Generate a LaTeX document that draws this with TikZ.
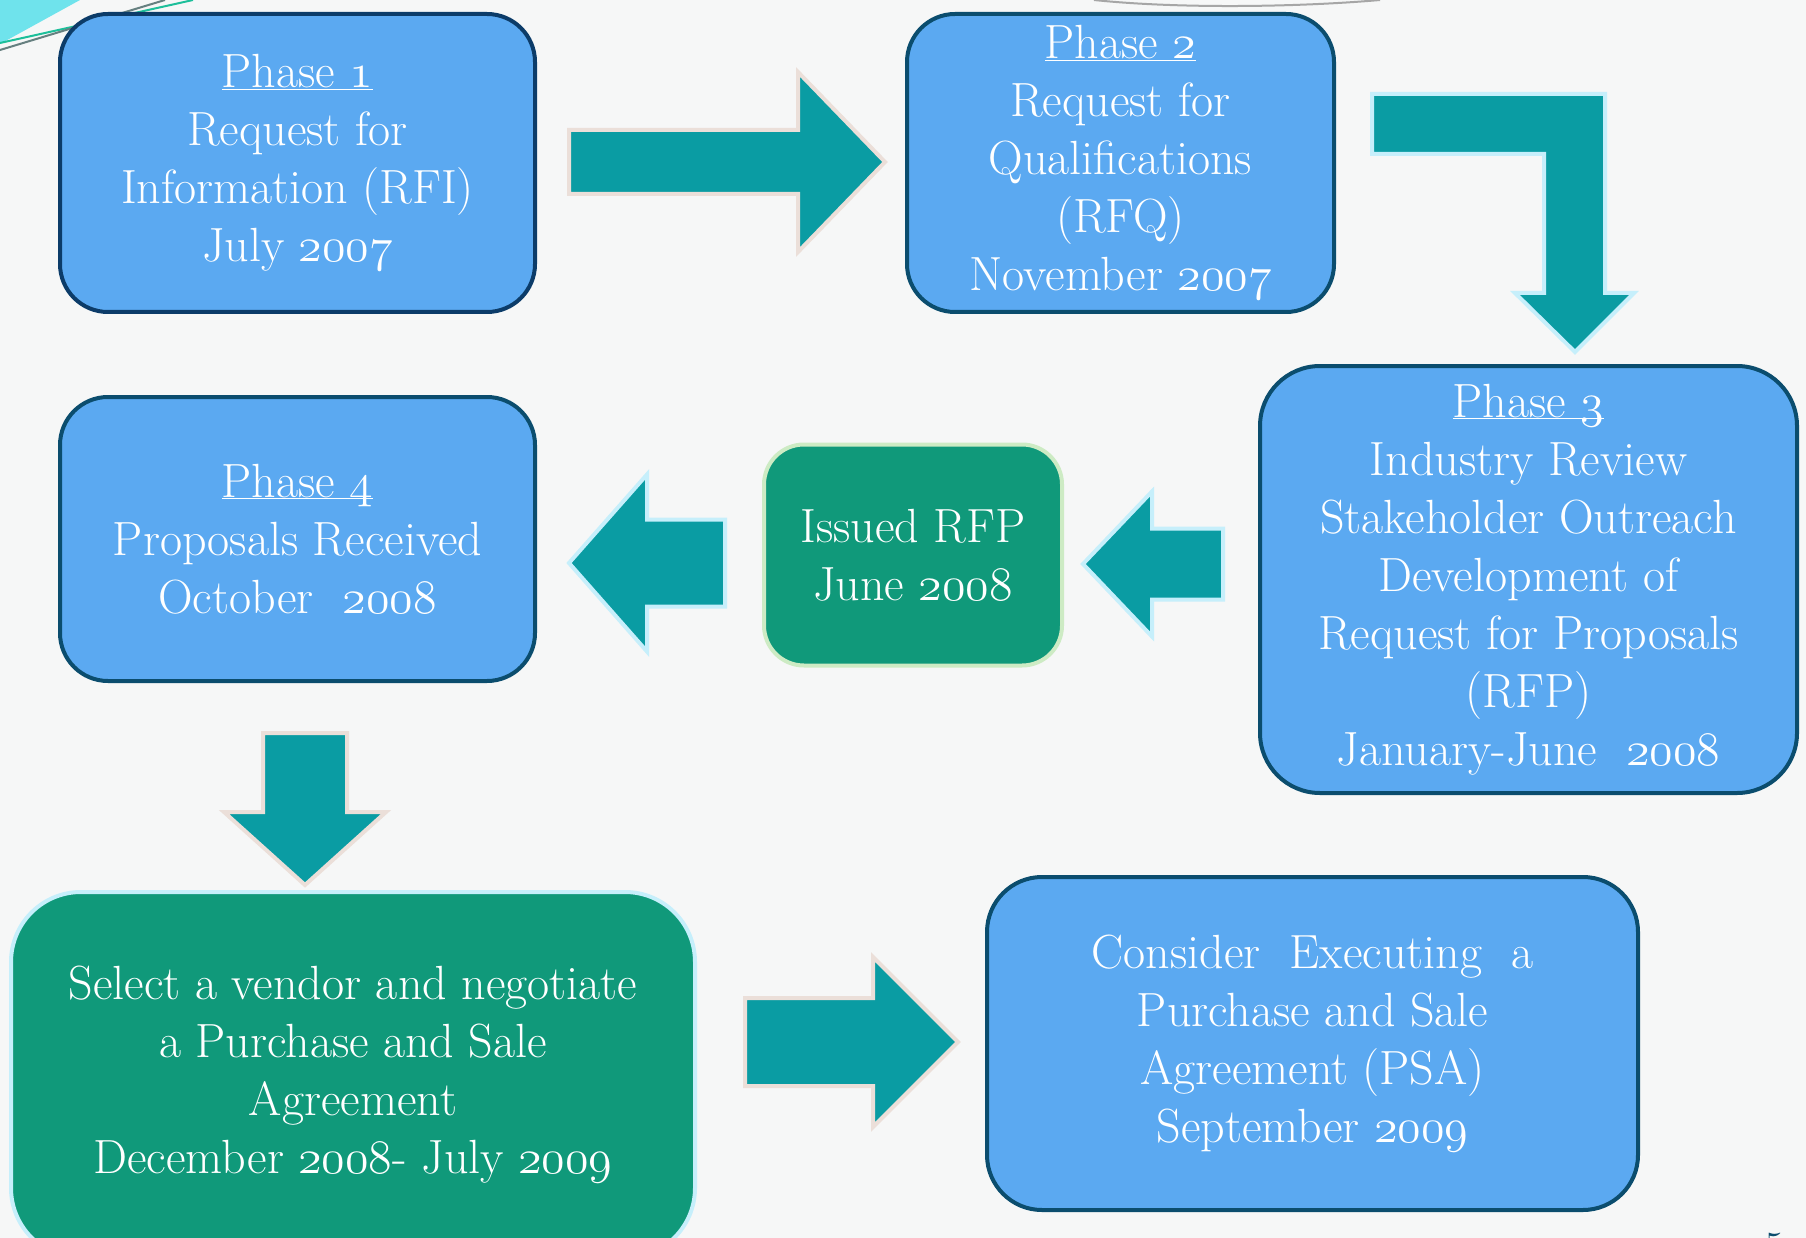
\documentclass[tikz,border=0pt]{standalone}
\usepackage{tikz}
\usetikzlibrary{positioning}

\definecolor{pagebg}{HTML}{F6F7F7}
\definecolor{boxblue}{HTML}{5BA9F1}
\definecolor{boxedge}{HTML}{0B4D6E}
\definecolor{navyedge}{HTML}{0C3C69}
\definecolor{stepgreen}{HTML}{10997A}
\definecolor{arrowteal}{HTML}{0A9CA3}
\definecolor{rimcyan}{HTML}{C6EFFB}
\definecolor{rimgreen}{HTML}{CDEBC4}
\definecolor{rimbeige}{HTML}{EBDFD9}
\definecolor{cornercyan}{HTML}{6FE3EC}
\definecolor{cornergreen}{HTML}{1DBF9A}

% old style figures, cmm stops at 24.88pt so scale up
\newcommand{\yr}[1]{\scalebox{1.93}{\fontsize{24.88}{30}\usefont{OML}{cmm}{m}{it}#1}}
\newcommand{\ph}[1]{\underline{\smash{Phase \yr{#1}}}\vphantom{Phase}}
% [rim] tail, angle, length, shaft, head width, head length
\newcommand{\blockarrow}[7][rimcyan]{%
  \draw[blockarr, draw=#1, shift={#2}, rotate=#3]
    (0,{-#5/2}) -- ({#4-#7},{-#5/2}) -- ({#4-#7},{-#6/2}) -- (#4,0)
    -- ({#4-#7},{#6/2}) -- ({#4-#7},{#5/2}) -- (0,{#5/2}) -- cycle;}

\begin{document}
\begin{tikzpicture}[x=1pt, y=-1pt,
  stepbox/.style={rounded corners=#1, fill=boxblue, draw=boxedge, line width=4pt,
    text=white, align=center, inner sep=0pt, font=\fontsize{48}{58}\selectfont},
  stepbox/.default=48pt,
  greenbox/.style={stepbox=#1, fill=stepgreen, draw=rimcyan},
  greenbox/.default=40pt,
  blockarr/.style={fill=arrowteal, line width=4pt, line join=miter}]
  \fill[pagebg] (0,0) rectangle (1806,1238);
  \useasboundingbox (0,0) rectangle (1806,1238);

  % slide corner
  \fill[cornercyan] (0,0) -- (80,0) -- (0,44) -- cycle;
  \draw[cornergreen, line width=2pt] (0,43) -- (193,0);
  \draw[gray!80!teal, line width=2pt] (0,50) -- (165,0);
  \draw[gray!70, line width=2pt] (1094,0) .. controls (1180,9) and (1300,7) .. (1380,0);

  \node[stepbox, draw=navyedge, minimum width=475pt, minimum height=298pt] (ph1) at (297.5,163)
    {\ph{1}\\Request for\\Information (RFI)\\July \yr{2007}};
  \node[stepbox, minimum width=427pt, minimum height=298pt] (ph2) at (1120.5,163)
    {\ph{2}\\Request for\\Qualifications\\(RFQ)\\November \yr{2007}};
  \node[stepbox=60pt, minimum width=537pt, minimum height=427pt] (ph3) at (1528.5,579.5)
    {\ph{3}\\Industry Review\\Stakeholder Outreach\\Development of\\Request for Proposals\\(RFP)\\January-June~~\yr{2008}};
  \node[greenbox, draw=rimgreen, minimum width=298pt, minimum height=221pt] (rfp) at (913,555)
    {Issued RFP\\June \yr{2008}};
  \node[stepbox, minimum width=475pt, minimum height=284pt] (ph4) at (297.5,539)
    {\ph{4}\\Proposals Received\\October~~\yr{2008}};
  \node[greenbox=70pt, minimum width=684pt, minimum height=366pt] (vendor) at (353,1075)
    {Select a vendor and negotiate\\a Purchase and Sale\\Agreement\\December \yr{2008}- July \yr{2009}};
  \node[stepbox=55pt, minimum width=651pt, minimum height=333pt] (psa) at (1312.5,1043.5)
    {Consider~~Executing~~a\\Purchase and Sale\\Agreement (PSA)\\September \yr{2009}};

  % block arrows
  \blockarrow[rimbeige]{(569,162)}{0}{316}{64}{180}{87}
  \draw[blockarr, draw=rimcyan] (1372,94) -- (1605,94) -- (1605,293) -- (1634,293)
    -- (1575,352) -- (1515,293) -- (1544,293) -- (1544,154) -- (1372,154) -- cycle;
  \blockarrow{(1223,564)}{180}{140}{71}{145}{69}
  \blockarrow{(725,563)}{180}{156}{87}{177}{78}
  \blockarrow[rimbeige]{(305,733)}{-90}{152}{84}{162}{73}
  \blockarrow[rimbeige]{(745,1042)}{0}{213}{88}{170}{85}

  \node[text=boxedge, font=\fontsize{40}{40}\selectfont, anchor=base] (pgno) at (1775,1259) {5};
\end{tikzpicture}
\end{document}
